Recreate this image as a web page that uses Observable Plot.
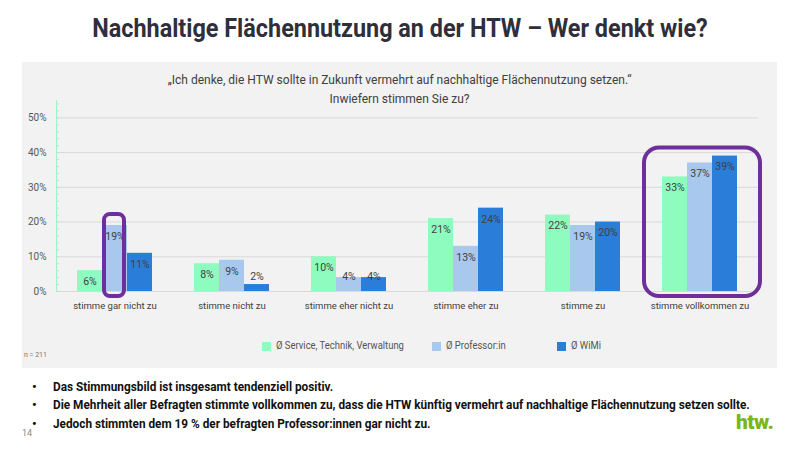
<!DOCTYPE html>
<html><head><meta charset="utf-8">
<script src="https://cdn.jsdelivr.net/npm/d3@7"></script>
<script src="https://cdn.jsdelivr.net/npm/@observablehq/plot@0.6"></script>
<style>
html,body{margin:0;padding:0;background:#fff;}
#page{position:relative;width:800px;height:450px;overflow:hidden;font-family:Roboto,sans-serif;}
.abs{position:absolute;white-space:nowrap;}
#title{left:0;top:12px;width:800px;text-align:center;font-weight:700;font-size:26px;line-height:32px;color:#2e2f3b;}
#title span{display:inline-block;transform:scaleX(0.90);}
#panel{left:22px;top:62px;width:755px;height:306px;background:#f2f2f2;}
.sub{left:22px;width:755px;text-align:center;font-size:12px;line-height:16px;color:#404040;}
.lg{top:338px;display:flex;align-items:center;font-size:10.5px;color:#555;line-height:16px;}
.lg .sw{width:9px;height:9px;margin-right:5px;flex:none;}
.lg span{display:inline-block;transform-origin:left center;transform:scaleX(0.9);}
#n{left:24px;top:351px;font-size:7px;color:#777;}
.bul{left:53px;font-weight:700;font-size:13px;line-height:18px;color:#111;transform-origin:left center;transform:scaleX(0.907);}
.dot{left:32px;font-weight:700;font-size:13px;line-height:18px;color:#111;}
#pg{left:22px;top:428px;font-size:9px;color:#888;}
#logo{left:736px;top:410px;font-weight:900;font-size:21px;color:#7ab51d;letter-spacing:-0.5px;}
#chart{left:22px;top:62px;}
</style></head>
<body><div id="page">
<div id="title" class="abs"><span>Nachhaltige Flächennutzung an der HTW – Wer denkt wie?</span></div>
<div id="panel" class="abs"></div>
<div class="abs sub" style="top:72px">„Ich denke, die HTW sollte in Zukunft vermehrt auf nachhaltige Flächennutzung setzen.“</div>
<div class="abs sub" style="top:91px">Inwiefern stimmen Sie zu?</div>
<div id="chart" class="abs"></div>
<div id="legend"></div>
<div id="n" class="abs">n = 211</div>
<div id="footer"></div>
<div id="pg" class="abs">14</div>
<div id="logo" class="abs">htw.</div>
</div>
<script>
const categories = ["stimme gar nicht zu","stimme nicht zu","stimme eher nicht zu","stimme eher zu","stimme zu","stimme vollkommen zu"];
const series = ["Ø Service, Technik, Verwaltung","Ø Professor:in","Ø WiMi"];
const valuesSTV = [6, 8, 10, 21, 22, 33];
const valuesProf = [19, 9, 4, 13, 19, 37];
const valuesWiMi = [11, 2, 4, 24, 20, 39];
const colors = ["#8efbbf","#a9c8ee","#2a7dd8"];
const yTicks = [0, 10, 20, 30, 40, 50];
const highlightBar = {cat: "stimme gar nicht zu", series: "Ø Professor:in"};
const highlightGroup = "stimme vollkommen zu";
const bullets = [
  "Das Stimmungsbild ist insgesamt tendenziell positiv.",
  "Die Mehrheit aller Befragten stimmte vollkommen zu, dass die HTW künftig vermehrt auf nachhaltige Flächennutzung setzen sollte.",
  "Jedoch stimmten dem 19 % der befragten Professor:innen gar nicht zu."
];

const seriesValues = [valuesSTV, valuesProf, valuesWiMi];
const data = [];
categories.forEach((c, i) => series.forEach((s, j) => data.push({cat: c, series: s, value: seriesValues[j][i]})));
const hlBar = data.filter(d => d.cat === highlightBar.cat && d.series === highlightBar.series);
const hlGroup = [{cat: highlightGroup, value: d3.max(data.filter(d => d.cat === highlightGroup), d => d.value)}];
const purple = "#6e2f9c";

const chart = Plot.plot({
  width: 755, height: 306,
  marginTop: 38, marginBottom: 77, marginLeft: 32, marginRight: 18,
  style: {background: "transparent", fontFamily: "Roboto, sans-serif", fontSize: "10px", color: "#595959", overflow: "visible"},
  fx: {domain: categories, padding: 0, label: null},
  x: {domain: series, paddingInner: 0, paddingOuter: 0.77, axis: null},
  y: {domain: [0, 55], axis: null},
  color: {domain: series, range: colors},
  marks: [
    Plot.ruleY(yTicks, {stroke: "#d9d9d9", strokeWidth: 1}),
    Plot.frame({anchor: "left", stroke: "#9ef3c6", facetAnchor: "left"}),
    Plot.axisY({ticks: d3.range(0, 55, 2), tickSize: -3, text: null, stroke: "#9ef3c6", label: null}),
    Plot.axisY({ticks: yTicks, tickFormat: d => d + "%", tickSize: 0, tickPadding: 10, label: null, fill: "#595959"}),
    Plot.axisFx({anchor: "bottom", tickSize: 0, tickPadding: 11, label: null, fill: "#404040", fontSize: 9.5}),
    Plot.barY(data, {fx: "cat", x: "series", y: "value", fill: "series"}),
    Plot.text(data.filter(d => d.value >= 5), {fx: "cat", x: "series", y: "value", text: d => d.value + "%", dy: 11, fill: "#404040", fontSize: 10.5}),
    Plot.text(data.filter(d => d.value < 5), {fx: "cat", x: "series", frameAnchor: "bottom", text: d => d.value + "%", dy: -12, fill: "#404040", fontSize: 10.5}),
    Plot.barY(hlBar, {fx: "cat", x: "series", y: "value", fill: "none", stroke: purple, strokeWidth: 4, rx: 6, insetLeft: 2, insetRight: 3, insetTop: -11, insetBottom: -5}),
    Plot.barY(hlGroup, {fx: "cat", y: "value", fill: "none", stroke: purple, strokeWidth: 4, rx: 15, insetLeft: 3, insetRight: -2, insetTop: -8, insetBottom: -5})
  ]
});
document.getElementById("chart").appendChild(chart);

const legend = document.getElementById("legend");
const legendLeft = [262, 432, 557];
series.forEach((s, i) => {
  const it = document.createElement("div"); it.className = "abs lg"; it.style.left = legendLeft[i] + "px";
  const sw = document.createElement("div"); sw.className = "sw"; sw.style.background = colors[i];
  const tx = document.createElement("span"); tx.textContent = s;
  it.appendChild(sw); it.appendChild(tx); legend.appendChild(it);
});

const footer = document.getElementById("footer");
const ys = [378, 396, 415];
bullets.forEach((b, i) => {
  const dot = document.createElement("div"); dot.className = "abs dot"; dot.style.top = ys[i] + "px"; dot.textContent = "•";
  const t = document.createElement("div"); t.className = "abs bul"; t.style.top = ys[i] + "px"; t.textContent = b;
  footer.appendChild(dot); footer.appendChild(t);
});
</script>
</body></html>
